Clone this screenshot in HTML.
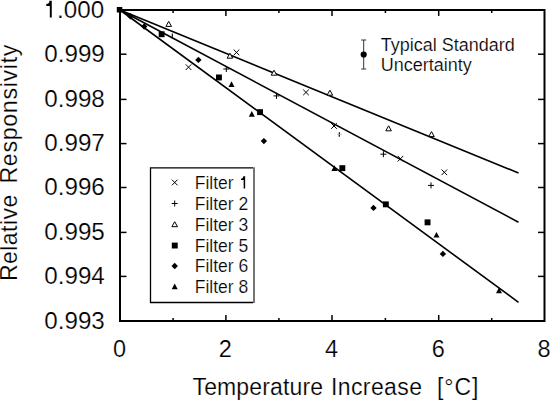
<!DOCTYPE html>
<html><head><meta charset="utf-8"><style>
html,body{margin:0;padding:0;background:#fff;}
svg{display:block;font-family:"Liberation Sans",sans-serif;}
text{stroke:#fff;stroke-width:0.2px;}
</style></head><body>
<svg width="550" height="401" viewBox="0 0 550 401">
<rect width="550" height="401" fill="#fff"/>
<line x1="120" y1="10" x2="518.5" y2="173.0" stroke="#000" stroke-width="1.6"/>
<line x1="120" y1="10" x2="518.5" y2="222.2" stroke="#000" stroke-width="1.6"/>
<line x1="120" y1="10" x2="518.5" y2="302.3" stroke="#000" stroke-width="1.6"/>
<path d="M120 10H544.5V321H120Z" stroke="#000" stroke-width="2" fill="none"/>
<line x1="120" y1="54.2" x2="126.5" y2="54.2" stroke="#000" stroke-width="1.5"/>
<line x1="544.5" y1="54.2" x2="538" y2="54.2" stroke="#000" stroke-width="1.5"/>
<line x1="120" y1="99.4" x2="126.5" y2="99.4" stroke="#000" stroke-width="1.5"/>
<line x1="544.5" y1="99.4" x2="538" y2="99.4" stroke="#000" stroke-width="1.5"/>
<line x1="120" y1="143.6" x2="126.5" y2="143.6" stroke="#000" stroke-width="1.5"/>
<line x1="544.5" y1="143.6" x2="538" y2="143.6" stroke="#000" stroke-width="1.5"/>
<line x1="120" y1="187.5" x2="126.5" y2="187.5" stroke="#000" stroke-width="1.5"/>
<line x1="544.5" y1="187.5" x2="538" y2="187.5" stroke="#000" stroke-width="1.5"/>
<line x1="120" y1="232.4" x2="126.5" y2="232.4" stroke="#000" stroke-width="1.5"/>
<line x1="544.5" y1="232.4" x2="538" y2="232.4" stroke="#000" stroke-width="1.5"/>
<line x1="120" y1="276.4" x2="126.5" y2="276.4" stroke="#000" stroke-width="1.5"/>
<line x1="544.5" y1="276.4" x2="538" y2="276.4" stroke="#000" stroke-width="1.5"/>
<line x1="173.1" y1="321" x2="173.1" y2="318" stroke="#000" stroke-width="1.5"/>
<line x1="173.1" y1="10" x2="173.1" y2="13" stroke="#000" stroke-width="1.5"/>
<line x1="225.9" y1="321" x2="225.9" y2="315" stroke="#000" stroke-width="1.5"/>
<line x1="225.9" y1="10" x2="225.9" y2="16" stroke="#000" stroke-width="1.5"/>
<line x1="278.9" y1="321" x2="278.9" y2="318" stroke="#000" stroke-width="1.5"/>
<line x1="278.9" y1="10" x2="278.9" y2="13" stroke="#000" stroke-width="1.5"/>
<line x1="332.0" y1="321" x2="332.0" y2="315" stroke="#000" stroke-width="1.5"/>
<line x1="332.0" y1="10" x2="332.0" y2="16" stroke="#000" stroke-width="1.5"/>
<line x1="385.4" y1="321" x2="385.4" y2="318" stroke="#000" stroke-width="1.5"/>
<line x1="385.4" y1="10" x2="385.4" y2="13" stroke="#000" stroke-width="1.5"/>
<line x1="438.7" y1="321" x2="438.7" y2="315" stroke="#000" stroke-width="1.5"/>
<line x1="438.7" y1="10" x2="438.7" y2="16" stroke="#000" stroke-width="1.5"/>
<line x1="491.7" y1="321" x2="491.7" y2="318" stroke="#000" stroke-width="1.5"/>
<line x1="491.7" y1="10" x2="491.7" y2="13" stroke="#000" stroke-width="1.5"/>
<path d="M49.42 0.70L51.77 0.70L51.77 17.50L49.82 17.50L49.82 5.91L46.30 5.91L46.30 4.06C48.24 4.06 49.42 2.72 49.42 0.70Z" fill="#000"/>
<text x="104.2" y="17.8" text-anchor="end" font-size="24.2">.000</text>
<text x="104.8" y="62.0" text-anchor="end" font-size="24.2">0.999</text>
<text x="104.8" y="107.2" text-anchor="end" font-size="24.2">0.998</text>
<text x="104.8" y="151.4" text-anchor="end" font-size="24.2">0.997</text>
<text x="104.8" y="195.3" text-anchor="end" font-size="24.2">0.996</text>
<text x="104.8" y="240.2" text-anchor="end" font-size="24.2">0.995</text>
<text x="104.8" y="284.2" text-anchor="end" font-size="24.2">0.994</text>
<text x="104.8" y="328.8" text-anchor="end" font-size="24.2">0.993</text>
<text x="119.5" y="356.7" text-anchor="middle" font-size="23.5">0</text>
<text x="225.4" y="356.7" text-anchor="middle" font-size="23.5">2</text>
<text x="331.5" y="356.7" text-anchor="middle" font-size="23.5">4</text>
<text x="438.2" y="356.7" text-anchor="middle" font-size="23.5">6</text>
<text x="544.0" y="356.7" text-anchor="middle" font-size="23.5">8</text>
<text x="192.5" y="394.6" font-size="23" textLength="130.5" lengthAdjust="spacing">Temperature</text>
<text x="331" y="394.6" font-size="23" textLength="91" lengthAdjust="spacing">Increase</text>
<text x="437" y="394.6" font-size="23" textLength="41.5" lengthAdjust="spacing">[°C]</text>
<text transform="translate(16.8 281) rotate(-90)" x="0" y="0" font-size="23.2" textLength="86.3" lengthAdjust="spacing">Relative</text>
<text transform="translate(16.8 183.6) rotate(-90)" x="0" y="0" font-size="23.2" textLength="139" lengthAdjust="spacing">Responsivity</text>
<rect x="116.8" y="7" width="5.5" height="5.5" fill="#000"/>
<path d="M185.7 64.4L191.3 70.0M185.7 70.0L191.3 64.4" stroke="#000" stroke-width="1" fill="none"/>
<path d="M233.7 49.6L239.3 55.2M233.7 55.2L239.3 49.6" stroke="#000" stroke-width="1" fill="none"/>
<path d="M303.2 89.6L308.8 95.2M303.2 95.2L308.8 89.6" stroke="#000" stroke-width="1" fill="none"/>
<path d="M331.2 123.2L336.8 128.8M331.2 128.8L336.8 123.2" stroke="#000" stroke-width="1" fill="none"/>
<path d="M397.7 155.9L403.3 161.5M397.7 161.5L403.3 155.9" stroke="#000" stroke-width="1" fill="none"/>
<path d="M441.5 169.5L447.1 175.1M441.5 175.1L447.1 169.5" stroke="#000" stroke-width="1" fill="none"/>
<path d="M223.3 69.0H229.3M226.3 66.0V72.0" stroke="#000" stroke-width="1" fill="none"/>
<path d="M273.5 95.9H279.5M276.5 92.9V98.9" stroke="#000" stroke-width="1" fill="none"/>
<path d="M380.4 154.2H386.4M383.4 151.2V157.2" stroke="#000" stroke-width="1" fill="none"/>
<path d="M428.0 185.4H434.0M431.0 182.4V188.4" stroke="#000" stroke-width="1" fill="none"/>
<path d="M168.7 21.4L171.5 26.4H165.9Z" stroke="#000" stroke-width="1" fill="#fff"/>
<path d="M229.9 53.2L232.7 58.2H227.1Z" stroke="#000" stroke-width="1" fill="#fff"/>
<path d="M274.0 70.2L276.8 75.2H271.2Z" stroke="#000" stroke-width="1" fill="#fff"/>
<path d="M329.9 90.2L332.7 95.2H327.1Z" stroke="#000" stroke-width="1" fill="#fff"/>
<path d="M388.6 125.8L391.4 130.8H385.8Z" stroke="#000" stroke-width="1" fill="#fff"/>
<path d="M431.5 131.6L434.3 136.6H428.7Z" stroke="#000" stroke-width="1" fill="#fff"/>
<rect x="158.7" y="31.3" width="5.9" height="5.9" fill="#000"/>
<rect x="216.0" y="74.5" width="5.9" height="5.9" fill="#000"/>
<rect x="257.1" y="109.2" width="5.9" height="5.9" fill="#000"/>
<rect x="339.4" y="165.2" width="5.9" height="5.9" fill="#000"/>
<rect x="382.9" y="201.4" width="5.9" height="5.9" fill="#000"/>
<rect x="424.6" y="219.4" width="5.9" height="5.9" fill="#000"/>
<path d="M130.3 13.1L133.5 16.3L130.3 19.5L127.1 16.3Z" fill="#000"/>
<path d="M144.2 23.3L147.4 26.5L144.2 29.7L141.0 26.5Z" fill="#000"/>
<path d="M198.4 56.7L201.6 59.9L198.4 63.1L195.2 59.9Z" fill="#000"/>
<path d="M263.9 137.9L267.1 141.1L263.9 144.3L260.7 141.1Z" fill="#000"/>
<path d="M373.5 204.7L376.7 207.9L373.5 211.1L370.3 207.9Z" fill="#000"/>
<path d="M442.9 250.7L446.1 253.9L442.9 257.1L439.7 253.9Z" fill="#000"/>
<path d="M231.5 81.3L234.5 87.0H228.5Z" fill="#000"/>
<path d="M251.8 111.0L254.8 116.7H248.8Z" fill="#000"/>
<path d="M334.4 165.3L337.4 171.0H331.4Z" fill="#000"/>
<path d="M436.5 231.9L439.5 237.6H433.5Z" fill="#000"/>
<path d="M499.0 287.5L502.0 293.2H496.0Z" fill="#000"/>
<path d="M172.3 33.5V38.5" stroke="#000" stroke-width="1.1"/>
<path d="M339.3 132.2V136.8" stroke="#000" stroke-width="1.2"/><path d="M337 134.5H342" stroke="#bbb" stroke-width="0.8"/>
<rect x="150.5" y="167.8" width="103.5" height="134.7" fill="#fff"/>
<path d="M150.5 167.8H253M150.5 167.2V302.5H253" stroke="#000" stroke-width="1.3" fill="none"/>
<path d="M254 167.2V303" stroke="#666" stroke-width="1.8" fill="none"/>
<path d="M171.9 179.7L177.5 185.3M171.9 185.3L177.5 179.7" stroke="#000" stroke-width="1" fill="none"/>
<path d="M243.25 176.20L245.15 176.20L245.15 188.60L243.65 188.60L243.65 180.04L241.00 180.04L241.00 178.68C242.46 178.68 243.25 177.69 243.25 176.20Z" fill="#000"/>
<text x="194.8" y="188.6" font-size="17.5">Filter</text>
<path d="M171.7 203.5H177.7M174.7 200.5V206.5" stroke="#000" stroke-width="1" fill="none"/>
<text x="194.8" y="209.6" font-size="17.5">Filter 2</text>
<path d="M174.7 221.7L177.5 226.7H171.9Z" stroke="#000" stroke-width="1" fill="#fff"/>
<text x="194.8" y="230.6" font-size="17.5">Filter 3</text>
<rect x="171.8" y="242.6" width="5.9" height="5.9" fill="#000"/>
<text x="194.8" y="251.6" font-size="17.5">Filter 5</text>
<path d="M174.7 262.8L177.9 266.0L174.7 269.2L171.5 266.0Z" fill="#000"/>
<text x="194.8" y="272.1" font-size="17.5">Filter 6</text>
<path d="M174.7 283.5L177.7 289.2H171.7Z" fill="#000"/>
<text x="194.8" y="292.6" font-size="17.5">Filter 8</text>
<path d="M363.7 40V69M361.2 40H366.2M361.2 69H366.2" stroke="#333" stroke-width="1" fill="none"/>
<circle cx="363.7" cy="54.5" r="3.1" fill="#000"/>
<text x="380.7" y="50.7" font-size="18">Typical Standard</text>
<text x="380.7" y="70.5" font-size="18">Uncertainty</text>
</svg>
</body></html>
